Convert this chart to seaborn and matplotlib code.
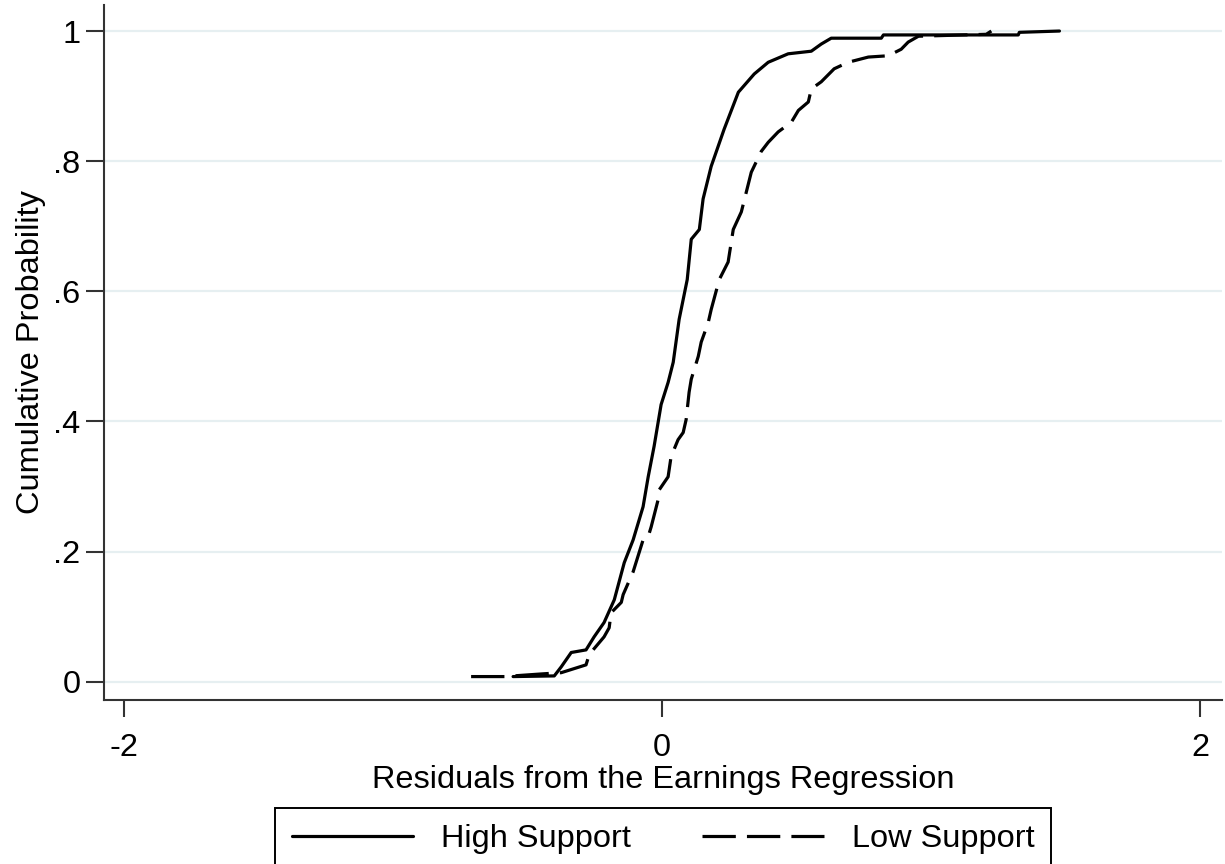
import matplotlib
matplotlib.use("Agg")
import matplotlib.pyplot as plt
import seaborn as sns
import pandas as pd

# ---- data (residual, cumulative probability) ----
high_x = [-0.554, -0.401, -0.375, -0.338, -0.283, -0.253, -0.216, -0.178, -0.141,
          -0.108, -0.071, -0.052, -0.030, -0.004, 0.022, 0.041, 0.063, 0.093,
          0.108, 0.138, 0.152, 0.182, 0.230, 0.283, 0.342, 0.394, 0.468, 0.554,
          0.591, 0.628, 0.814, 0.822, 1.323, 1.327, 1.476]
high_y = [0.008, 0.009, 0.023, 0.045, 0.049, 0.069, 0.091, 0.126, 0.183,
          0.218, 0.269, 0.315, 0.362, 0.426, 0.460, 0.491, 0.557, 0.618,
          0.680, 0.695, 0.742, 0.792, 0.849, 0.906, 0.934, 0.952, 0.965, 0.969,
          0.980, 0.989, 0.989, 0.994, 0.994, 0.998, 1.000]

low_x = [-0.710, -0.572, -0.554, -0.450, -0.375, -0.283, -0.271, -0.216, -0.197,
         -0.190, -0.152, -0.145, -0.108, -0.071, -0.052, -0.041, -0.015, -0.011,
         0.022, 0.033, 0.059, 0.078, 0.089, 0.100, 0.108, 0.134, 0.145, 0.171,
         0.182, 0.212, 0.245, 0.264, 0.294, 0.331, 0.368, 0.394, 0.431, 0.480,
         0.506, 0.543, 0.554, 0.591, 0.639, 0.691, 0.766, 0.840, 0.888, 0.914,
         0.952, 1.204, 1.223]
low_y = [0.008, 0.008, 0.009, 0.012, 0.014, 0.026, 0.042, 0.069, 0.083,
         0.106, 0.122, 0.134, 0.169, 0.218, 0.223, 0.238, 0.280, 0.295,
         0.315, 0.346, 0.372, 0.383, 0.403, 0.445, 0.465, 0.500, 0.522, 0.552,
         0.572, 0.618, 0.645, 0.695, 0.722, 0.783, 0.815, 0.829, 0.845, 0.860,
         0.878, 0.891, 0.911, 0.922, 0.942, 0.952, 0.960, 0.962, 0.972, 0.983,
         0.992, 0.995, 1.000]

groups = ["High Support", "Low Support"]
x_ticks = [-2, 0, 2]
x_tick_labels = ["-2", "0", "2"]
y_ticks = [0, 0.2, 0.4, 0.6, 0.8, 1.0]
y_tick_labels = ["0", ".2", ".4", ".6", ".8", "1"]

df = pd.concat([
    pd.DataFrame({"resid": high_x, "cdf": high_y, "group": groups[0]}),
    pd.DataFrame({"resid": low_x, "cdf": low_y, "group": groups[1]}),
], ignore_index=True)

# ---- styling ----
sns.set_style("ticks")
plt.rcParams["font.family"] = ["Liberation Sans", "DejaVu Sans"]
plt.rcParams["lines.scale_dashes"] = False
plt.rcParams["text.color"] = "black"
plt.rcParams["axes.labelcolor"] = "black"
FS = 23.4
dark = "#333333"
gridc = "#e6eff1"

fig = plt.figure(figsize=(12.25, 8.64), dpi=100)
ax = fig.add_axes([104 / 1225, 1 - 700 / 864, (1222 - 104) / 1225, (700 - 5) / 864])

sns.lineplot(data=df, x="resid", y="cdf", hue="group", style="group",
             palette={groups[0]: "black", groups[1]: "black"},
             dashes={groups[0]: "", groups[1]: (24, 8)},
             sort=False, estimator=None, linewidth=2.3, ax=ax)

ax.set_xlim(-2.074, 2.08)
ax.set_ylim(-0.028, 1.04)
ax.set_xticks(x_ticks)
ax.set_xticklabels(x_tick_labels)
ax.set_yticks(y_ticks)
ax.set_yticklabels(y_tick_labels)

for y in y_ticks:
    ax.axhline(y, color=gridc, lw=1.6, zorder=0)

for s in ["top", "right"]:
    ax.spines[s].set_visible(False)
for s in ["left", "bottom"]:
    ax.spines[s].set_color(dark)
    ax.spines[s].set_linewidth(1.5)

ax.tick_params(axis="both", which="major", direction="out", color=dark,
               width=1.5, labelsize=FS, labelcolor="black",
               bottom=True, left=True)
ax.tick_params(axis="y", length=13, pad=4)
ax.tick_params(axis="x", length=12, pad=12)

ax.set_xlabel("Residuals from the Earnings Regression", fontsize=FS,
              labelpad=1, color="black")
ax.set_ylabel("Cumulative Probability", fontsize=FS, labelpad=5, color="black")

handles, labels = ax.get_legend_handles_labels()
ax.get_legend().remove()
leg = fig.legend(handles, labels, loc="upper center",
                 bbox_to_anchor=(663 / 1225, 1 - 808 / 864),
                 ncol=2, fontsize=FS, frameon=True, fancybox=False,
                 handlelength=3.75, handletextpad=0.85, columnspacing=2.2,
                 borderpad=0.5, borderaxespad=0, framealpha=1)
leg.get_frame().set_edgecolor("black")
leg.get_frame().set_linewidth(1.4)
for line in leg.get_lines():
    line.set_linewidth(2.3)
for t in leg.get_texts():
    t.set_color("black")

fig.savefig("out.png", dpi=100)
